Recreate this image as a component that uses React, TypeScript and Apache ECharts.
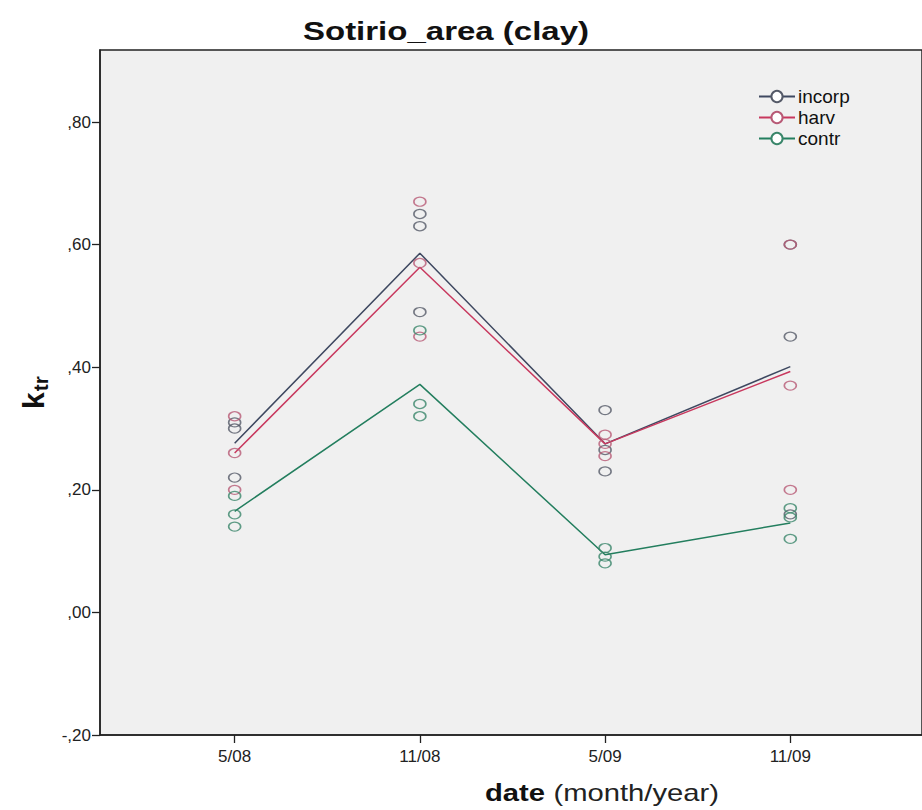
import React, { useEffect, useRef } from "react";
import * as echarts from "echarts";

const dates = ["5/08", "11/08", "5/09", "11/09"];
const yTicks = [-0.2, 0, 0.2, 0.4, 0.6, 0.8];

// individual observations per date
const incorpObs = [
  [0.31, 0.30, 0.22],
  [0.65, 0.63, 0.49],
  [0.33, 0.265, 0.23],
  [0.60, 0.45, 0.16],
];
const harvObs = [
  [0.32, 0.26, 0.20],
  [0.67, 0.57, 0.45],
  [0.29, 0.275, 0.255],
  [0.60, 0.37, 0.20],
];
const contrObs = [
  [0.16, 0.19, 0.14],
  [0.34, 0.32, 0.46],
  [0.105, 0.091, 0.08],
  [0.17, 0.155, 0.12],
];

// mean lines
const incorpMean = [0.276, 0.586, 0.275, 0.401];
const harvMean = [0.26, 0.563, 0.275, 0.393];
const contrMean = [0.165, 0.372, 0.094, 0.146];

const FONT = "Arial, 'Liberation Sans', sans-serif";

const groups = [
  { name: "incorp", line: "#3e4860", dot: "#555a68", obs: incorpObs, mean: incorpMean },
  { name: "harv", line: "#c8385e", dot: "#b85a76", obs: harvObs, mean: harvMean },
  { name: "contr", line: "#237e5e", dot: "#3a866a", obs: contrObs, mean: contrMean },
];

function fmtY(v: number) {
  const s = Math.abs(v).toFixed(2).replace("0.", ",").replace(".", ",");
  return (v < 0 ? "-" : "") + s;
}

export default function App() {
  const ref = useRef<HTMLDivElement>(null);
  useEffect(() => {
    if (!ref.current) return;
    const chart = echarts.init(ref.current, undefined, { renderer: "svg" });

    const lineSeries = groups.map((g) => ({
      name: g.name,
      type: "line",
      data: g.mean.map((v, i) => [i + 1, v]),
      symbol: "emptyCircle",
      showSymbol: false,
      lineStyle: { color: g.line, width: 1.5 },
      itemStyle: { color: g.dot },
      z: 3,
    }));
    const scatterSeries = groups.map((g) => {
      const pts: number[][] = [];
      g.obs.forEach((arr, i) => arr.forEach((v) => pts.push([i + 1, v])));
      return {
        name: g.name,
        type: "scatter",
        data: pts,
        symbol: "circle",
        symbolSize: [12, 9],
        itemStyle: { color: "rgba(0,0,0,0)", borderColor: g.dot, borderWidth: 1.4 },
        z: 4,
      };
    });

    chart.setOption({
      animation: false,
      backgroundColor: "#ffffff",
      legend: {
        data: groups.map((g) => g.name),
        orient: "vertical",
        left: 753,
        top: 82,
        itemWidth: 36,
        itemHeight: 14,
        itemGap: 2,
        textStyle: { fontFamily: FONT, fontSize: 19, color: "#111", padding: [0, 0, 0, -2] },
      },
      grid: {
        left: 100,
        right: -2,
        top: 50,
        bottom: 75,
        show: true,
        backgroundColor: "#f0f0f0",
        borderColor: "#222",
        borderWidth: 1.5,
      },
      xAxis: {
        type: "value",
        min: 0.273,
        max: 4.711,
        splitLine: { show: false },
        axisLine: { show: true, onZero: false, lineStyle: { color: "#222", width: 1.5 } },
        axisTick: {
          show: true,
          customValues: [1, 2, 3, 4],
          length: 8,
          lineStyle: { color: "#222", width: 1.3 },
        },
        axisLabel: {
          customValues: [1, 2, 3, 4],
          formatter: (v: number) => dates[Math.round(v) - 1] ?? "",
          margin: 13,
          fontFamily: FONT,
          fontSize: 17,
          color: "#222",
        },
      },
      yAxis: {
        type: "value",
        min: -0.2,
        max: 0.9175,
        splitLine: { show: false },
        axisLine: { show: true, onZero: false, lineStyle: { color: "#222", width: 1.5 } },
        axisTick: {
          show: true,
          customValues: yTicks,
          length: 8,
          lineStyle: { color: "#222", width: 1.3 },
        },
        axisLabel: {
          customValues: yTicks,
          formatter: (v: number) => fmtY(v),
          margin: 9,
          fontFamily: FONT,
          fontSize: 17,
          color: "#222",
        },
        name: "{k|k}{s|tr}",
        nameLocation: "middle",
        nameRotate: 90,
        nameGap: 39,
        nameTextStyle: {
          rich: {
            k: { fontFamily: FONT, fontSize: 30, fontWeight: "bold", color: "#111" },
            s: { fontFamily: FONT, fontSize: 21, fontWeight: "bold", color: "#111", padding: [14, 0, 0, 1] },
          },
        },
      },
      graphic: [
        {
          type: "text",
          x: 446,
          y: 31,
          scaleX: 1.32,
          style: {
            text: "Sotirio_area (clay)",
            fontFamily: FONT,
            fontSize: 25,
            fontWeight: "bold",
            fill: "#111",
            align: "center",
            verticalAlign: "middle",
          },
        },
        {
          type: "text",
          x: 485,
          y: 793,
          scaleX: 1.27,
          style: {
            text: "{b|date}  {n|(month/year)}",
            align: "left",
            verticalAlign: "middle",
            rich: {
              b: { fontFamily: FONT, fontSize: 23, fontWeight: "bold", fill: "#111" },
              n: { fontFamily: FONT, fontSize: 23, fill: "#222" },
            },
          },
        },
      ],
      series: [...lineSeries, ...scatterSeries],
    });
    return () => chart.dispose();
  }, []);
  return (
    <div
      ref={ref}
      style={{ position: "absolute", left: 0, top: 0, width: 922, height: 810 }}
    />
  );
}
